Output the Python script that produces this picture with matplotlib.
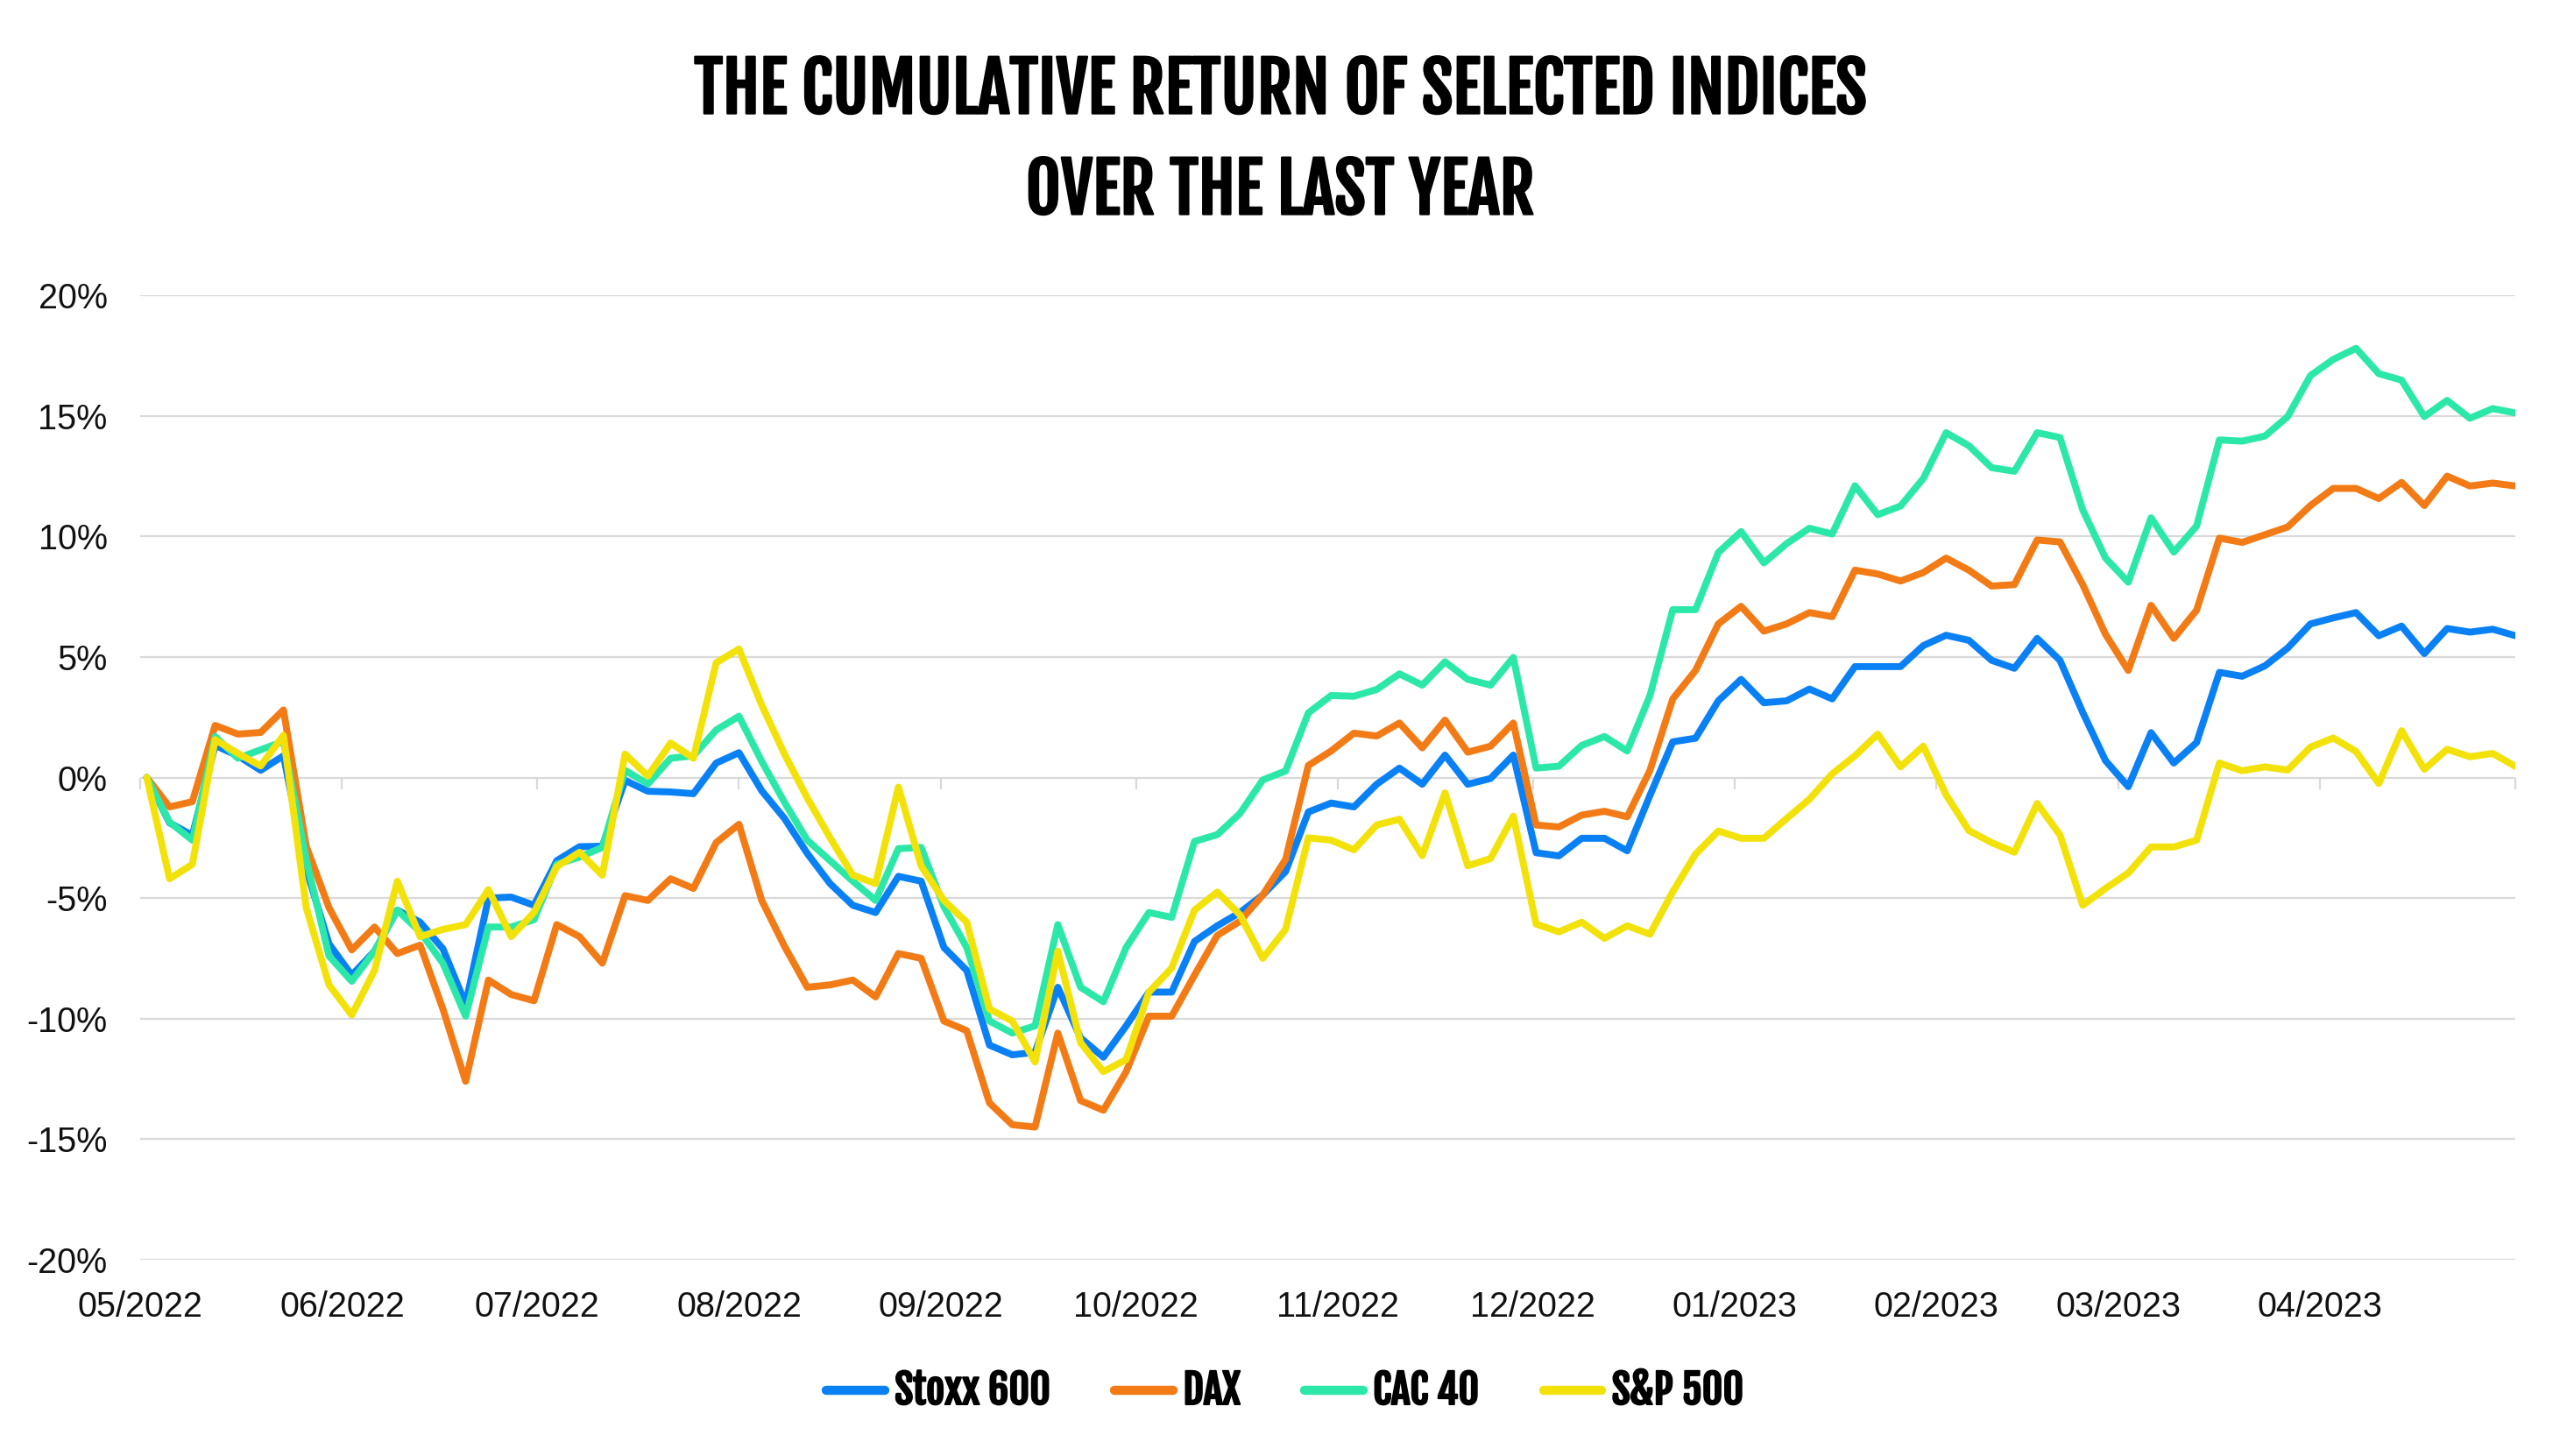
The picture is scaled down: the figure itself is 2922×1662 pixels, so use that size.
import numpy as np
import pandas as pd
import matplotlib
matplotlib.use("Agg")
import matplotlib.pyplot as plt
import matplotlib.patheffects as pe
from matplotlib.ticker import FuncFormatter
from matplotlib.font_manager import FontProperties

# ---------------- data (cumulative return, %) ----------------
series_names = ["Stoxx 600", "DAX", "CAC 40", "S&P 500"]
start_date = "2022-05-02"
end_date = "2023-05-01"

stoxx = [0, -1.88, -2.4, 1.33, 0.9, 0.3, 0.9, -3.8, -6.9, -8.2,
         -7.2, -5.5, -6.0, -7.1, -9.4, -5.0, -4.96, -5.3, -3.45, -2.87,
         -2.85, -0.12, -0.57, -0.6, -0.67, 0.6, 1.03, -0.55, -1.7, -3.15,
         -4.4, -5.3, -5.6, -4.1, -4.3, -7.05, -8.0, -11.1, -11.5, -11.4,
         -8.7, -10.8, -11.6, -10.3, -8.9, -8.9, -6.8, -6.15, -5.6, -4.87,
         -3.9, -1.43, -1.06, -1.22, -0.28, 0.39, -0.28, 0.93, -0.28, -0.04,
         0.93, -3.12, -3.25, -2.52, -2.52, -3.04, -0.74, 1.48, 1.63, 3.18,
         4.07, 3.1, 3.18, 3.67, 3.26, 4.6, 4.6, 4.6, 5.47, 5.9,
         5.69, 4.86, 4.53, 5.77, 4.86, 2.7, 0.7, -0.38, 1.86, 0.6,
         1.45, 4.36, 4.2, 4.63, 5.37, 6.37, 6.62, 6.84, 5.88, 6.28,
         5.14, 6.18, 6.03, 6.15, 5.88]

dax = [0, -1.22, -1.0, 2.16, 1.8, 1.87, 2.8, -2.85, -5.4, -7.15,
       -6.2, -7.3, -6.95, -9.6, -12.6, -8.4, -9.0, -9.26, -6.1, -6.6,
       -7.7, -4.9, -5.1, -4.2, -4.6, -2.7, -1.94, -5.1, -7.0, -8.7,
       -8.6, -8.4, -9.1, -7.3, -7.5, -10.1, -10.5, -13.5, -14.4, -14.5,
       -10.6, -13.4, -13.8, -12.2, -9.9, -9.9, -8.2, -6.55, -5.96, -4.87,
       -3.4, 0.5, 1.1, 1.84, 1.72, 2.26, 1.23, 2.38, 1.05, 1.3,
       2.26, -1.97, -2.05, -1.56, -1.4, -1.63, 0.3, 3.26, 4.44, 6.37,
       7.1, 6.07, 6.37, 6.84, 6.67, 8.6, 8.44, 8.15, 8.5, 9.1,
       8.6, 7.94, 8.0, 9.85, 9.77, 8.0, 5.94, 4.44, 7.14, 5.77,
       6.94, 9.93, 9.75, 10.07, 10.39, 11.28, 11.99, 11.99, 11.57, 12.24,
       11.28, 12.5, 12.09, 12.21, 12.09]

cac = [0, -1.85, -2.6, 1.7, 0.8, 1.15, 1.5, -3.4, -7.4, -8.45,
       -7.2, -5.5, -6.4, -7.7, -9.9, -6.2, -6.2, -5.9, -3.6, -3.3,
       -2.9, 0.3, -0.27, 0.8, 0.9, 1.97, 2.54, 0.67, -1.03, -2.6,
       -3.45, -4.3, -5.1, -2.95, -2.9, -5.36, -7.05, -10.1, -10.6, -10.3,
       -6.1, -8.7, -9.3, -7.05, -5.6, -5.8, -2.65, -2.37, -1.49, -0.1,
       0.27, 2.68, 3.4, 3.37, 3.65, 4.3, 3.83, 4.8, 4.07, 3.83,
       4.98, 0.39, 0.47, 1.33, 1.7, 1.1, 3.4, 6.96, 6.96, 9.33,
       10.2, 8.9, 9.7, 10.34, 10.1, 12.1, 10.9, 11.26, 12.4, 14.3,
       13.76, 12.85, 12.7, 14.3, 14.1, 11.1, 9.1, 8.1, 10.77, 9.35,
       10.43, 14.0, 13.95, 14.16, 14.97, 16.67, 17.34, 17.8, 16.75, 16.48,
       14.97, 15.64, 14.9, 15.3, 15.12]

spx = [0, -4.2, -3.6, 1.57, 1.0, 0.48, 1.75, -5.4, -8.6, -9.85,
       -8.0, -4.3, -6.6, -6.3, -6.1, -4.65, -6.6, -5.6, -3.7, -3.1,
       -4.05, 0.97, 0.06, 1.43, 0.8, 4.76, 5.33, 3.0, 0.97, -0.85,
       -2.5, -4.05, -4.4, -0.4, -3.67, -5.1, -6.0, -9.6, -10.1, -11.8,
       -7.2, -11.0, -12.2, -11.7, -8.9, -7.9, -5.5, -4.75, -5.7, -7.5,
       -6.3, -2.5, -2.6, -3.0, -1.97, -1.73, -3.24, -0.64, -3.66, -3.36,
       -1.6, -6.08, -6.4, -6.0, -6.67, -6.15, -6.5, -4.74, -3.18, -2.22,
       -2.52, -2.52, -1.7, -0.9, 0.15, 0.9, 1.8, 0.44, 1.3, -0.72,
       -2.2, -2.7, -3.1, -1.08, -2.38, -5.3, -4.6, -3.96, -2.88, -2.88,
       -2.6, 0.6, 0.28, 0.44, 0.31, 1.26, 1.64, 1.08, -0.25, 1.94,
       0.34, 1.17, 0.86, 1.0, 0.46]

y_ticks = [-20, -15, -10, -5, 0, 5, 10, 15, 20]
month_starts = pd.date_range("2022-05-01", "2023-05-01", freq="MS")
month_labels = [d.strftime("%m/%Y") for d in month_starts[:-1]]

title_text = "THE CUMULATIVE RETURN OF SELECTED INDICES\nOVER THE LAST YEAR"

# ---------------- styling ----------------
colors = ["#0A80F5", "#F27B16", "#2CE8A8", "#F2E20A"]
tick_font = ["Liberation Sans", "DejaVu Sans"]
cond_family = ["Fjalla One", "Oswald", "DejaVu Sans"]

dates = pd.date_range(start_date, end_date, periods=len(stoxx))

fig = plt.figure(figsize=(29.22, 16.62), dpi=100)
fig.patch.set_facecolor("white")
ax = fig.add_axes([0.0548, 0.1348, 0.9278, 0.6624])

for vals, name, col in zip([stoxx, dax, cac, spx], series_names, colors):
    ax.plot(dates, np.asarray(vals, dtype=float), color=col, lw=5.7,
            solid_capstyle="round", solid_joinstyle="round", label=name, zorder=3)

ax.set_xlim(month_starts[0], month_starts[-1])
ax.set_ylim(-20, 20)
ax.set_yticks(y_ticks)
ax.yaxis.set_major_formatter(FuncFormatter(lambda v, p: f"{v:.0f}%"))
ax.grid(axis="y", color="#D9D9D9", lw=1.6)
ax.grid(axis="x", visible=False)
ax.set_axisbelow(True)
for s in ax.spines.values():
    s.set_visible(False)

# small tick marks on the zero line
ax.spines["bottom"].set_position(("data", 0))
ax.set_xticks(month_starts)
ax.tick_params(axis="x", length=9, width=1.6, color="#D9D9D9", direction="out",
               labelbottom=False)
ax.tick_params(axis="y", length=0, pad=27, labelsize=28.5, labelcolor="#111111")
for lab in ax.get_yticklabels():
    lab.set_fontfamily(tick_font)

# month labels along the bottom of the plot
sec = ax.secondary_xaxis("bottom")
sec.set_xticks(month_starts[:-1], labels=month_labels)
sec.tick_params(length=0, pad=25, labelsize=28.5, labelcolor="#111111")
for s in sec.spines.values():
    s.set_visible(False)
for lab in sec.get_xticklabels():
    lab.set_fontfamily(tick_font)

# title
fig.text(0.5, 0.9031, title_text, ha="center", va="center", fontsize=56,
         family=cond_family, linespacing=1.42, color="black",
         path_effects=[pe.withStroke(linewidth=1.6, foreground="black")])

# legend
leg = fig.legend(loc="center", bbox_to_anchor=(0.502, 0.0445), ncol=4, frameon=False,
                 prop=FontProperties(family=cond_family, size=33),
                 handlelength=1.45, handletextpad=0.25, columnspacing=1.6)
for ln in leg.get_lines():
    ln.set_linewidth(7.5)
    ln.set_solid_capstyle("round")
for t in leg.get_texts():
    t.set_path_effects([pe.withStroke(linewidth=1.4, foreground="black")])

fig.savefig("out.png", dpi=100, facecolor="white")
